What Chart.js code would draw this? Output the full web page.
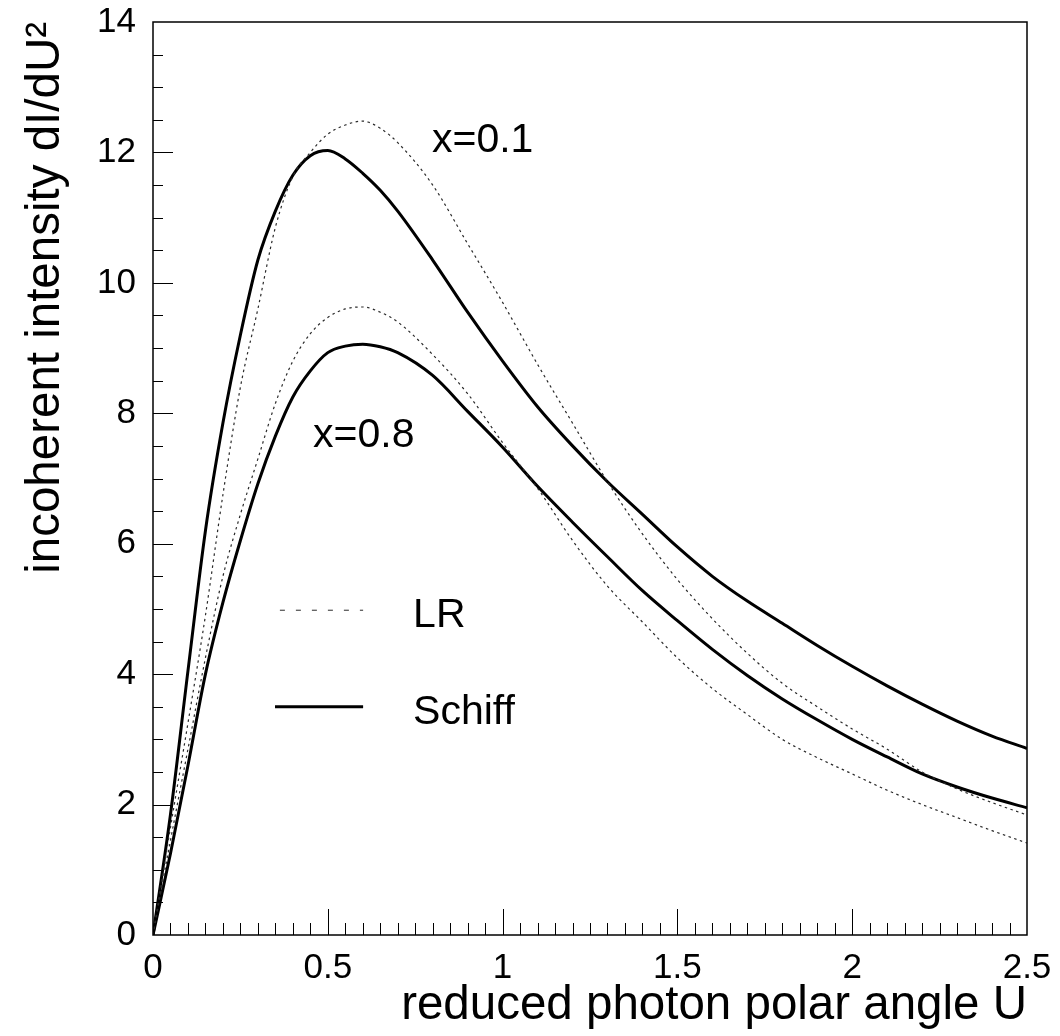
<!DOCTYPE html>
<html>
<head>
<meta charset="utf-8">
<script src="https://cdn.jsdelivr.net/npm/chart.js@4.4.1/dist/chart.umd.min.js"></script>
<style>
  html, body { margin: 0; padding: 0; background: #fff; }
  #wrap { width: 1060px; height: 1036px; }
</style>
</head>
<body>
<div id="wrap"><canvas id="chart"></canvas></div>
<script>
/* ═══════════════════════════════════════════════════
   DATA
═══════════════════════════════════════════════════ */
const angleU = [0, 0.05, 0.1, 0.15, 0.2, 0.25, 0.3, 0.35, 0.4, 0.45, 0.5, 0.55, 0.6, 0.65, 0.7,
  0.8, 0.9, 1.0, 1.1, 1.2, 1.3, 1.4, 1.5, 1.6, 1.7, 1.8, 1.9, 2.0, 2.1, 2.2, 2.3, 2.4, 2.5];

const schiff01 = [0, 1.85, 4.05, 6.2, 7.85, 9.2, 10.35, 11.1, 11.65, 11.95, 12.03, 11.9, 11.68, 11.42, 11.1,
  10.35, 9.55, 8.8, 8.1, 7.5, 6.95, 6.45, 5.95, 5.5, 5.12, 4.78, 4.44, 4.12, 3.82, 3.54, 3.28, 3.05, 2.86];
const lr01 = [0, 1.65, 3.25, 4.9, 6.75, 8.4, 9.6, 10.85, 11.63, 12.0, 12.28, 12.42, 12.48, 12.37, 12.15,
  11.5, 10.6, 9.7, 8.75, 7.85, 6.95, 6.15, 5.45, 4.85, 4.32, 3.86, 3.5, 3.16, 2.85, 2.5, 2.24, 2.03, 1.84];
const schiff08 = [0, 1.25, 2.6, 4.0, 5.1, 6.05, 6.92, 7.65, 8.25, 8.65, 8.93, 9.03, 9.06, 9.02, 8.93,
  8.58, 8.03, 7.48, 6.88, 6.33, 5.8, 5.28, 4.82, 4.38, 3.98, 3.62, 3.3, 3.0, 2.73, 2.47, 2.27, 2.1, 1.95];
const lr08 = [0, 1.45, 2.85, 4.25, 5.5, 6.45, 7.3, 8.15, 8.8, 9.22, 9.47, 9.6, 9.63, 9.55, 9.4,
  8.9, 8.3, 7.55, 6.85, 6.05, 5.35, 4.8, 4.25, 3.78, 3.38, 3.0, 2.72, 2.47, 2.22, 2.0, 1.8, 1.6, 1.41];

const xTickLabels = [0, 0.5, 1, 1.5, 2, 2.5];
const yTickLabels = [0, 2, 4, 6, 8, 10, 12, 14];

const curveNotes = ['x=0.1', 'x=0.8'];
const legendNames = ['LR', 'Schiff'];

/* ═══════════════════════════════════════════════════
   CHART
═══════════════════════════════════════════════════ */
const FONT = '"Liberation Sans", Arial, Helvetica, sans-serif';
const X_MINOR = 0.05;
const Y_MINOR = 0.5;

function pts(values) {
  return angleU.map((u, i) => ({ x: u, y: values[i] }));
}

const lrStyle = { borderColor: '#2a2a2a', borderWidth: 1.2, borderDash: [2.5, 3.5] };
const schiffStyle = { borderColor: '#000', borderWidth: 3, borderDash: [] };

// inward tick marks, frame, curve labels and the little legend
const decorPlugin = {
  id: 'decor',
  afterDatasetsDraw(chart) {
    const { ctx, chartArea: a, scales: { x, y } } = chart;
    ctx.save();
    ctx.strokeStyle = '#000';
    ctx.lineWidth = 1;

    const nx = Math.round((x.max - x.min) / X_MINOR);
    for (let k = 1; k < nx; k++) {
      const px = Math.round(x.getPixelForValue(x.min + k * X_MINOR)) + 0.5;
      const len = k % 10 === 0 ? 26 : 12;
      ctx.beginPath();
      ctx.moveTo(px, a.bottom);
      ctx.lineTo(px, a.bottom - len);
      ctx.stroke();
    }
    const ny = Math.round((y.max - y.min) / Y_MINOR);
    for (let k = 1; k < ny; k++) {
      const py = Math.round(y.getPixelForValue(y.min + k * Y_MINOR)) + 0.5;
      const len = k % 4 === 0 ? 20 : 10;
      ctx.beginPath();
      ctx.moveTo(a.left, py);
      ctx.lineTo(a.left + len, py);
      ctx.stroke();
    }

    ctx.lineWidth = 1.5;
    ctx.strokeRect(a.left, a.top, a.right - a.left, a.bottom - a.top);

    // curve labels
    ctx.fillStyle = '#000';
    ctx.font = '41px ' + FONT;
    ctx.textAlign = 'left';
    ctx.textBaseline = 'alphabetic';
    ctx.fillText(curveNotes[0], x.getPixelForValue(0.798), y.getPixelForValue(12.0));
    ctx.fillText(curveNotes[1], x.getPixelForValue(0.458), y.getPixelForValue(7.48));

    // legend
    const rows = [
      { style: lrStyle, dash: [5, 11], lineV: 4.98, textV: 4.72, from: 0.363 },
      { style: schiffStyle, dash: [], lineV: 3.5, textV: 3.24, from: 0.349 },
    ];
    rows.forEach((r, i) => {
      const py = y.getPixelForValue(r.lineV);
      ctx.beginPath();
      ctx.setLineDash(r.dash);
      ctx.strokeStyle = r.style.borderColor;
      ctx.lineWidth = r.style.borderWidth === 3 ? 3 : 1;
      ctx.moveTo(x.getPixelForValue(r.from), py);
      ctx.lineTo(x.getPixelForValue(0.601), py);
      ctx.stroke();
      ctx.setLineDash([]);
      ctx.fillText(legendNames[i], x.getPixelForValue(0.744), y.getPixelForValue(r.textV));
    });
    ctx.restore();
  }
};

const ctx = document.getElementById('chart');
new Chart(ctx, {
  type: 'line',
  data: {
    datasets: [
      { label: 'LR x=0.1', data: pts(lr01), ...lrStyle },
      { label: 'LR x=0.8', data: pts(lr08), ...lrStyle },
      { label: 'Schiff x=0.1', data: pts(schiff01), ...schiffStyle },
      { label: 'Schiff x=0.8', data: pts(schiff08), ...schiffStyle },
    ]
  },
  options: {
    responsive: true,
    maintainAspectRatio: false,
    animation: false,
    layout: { padding: { top: 22, right: 33, left: 0, bottom: 0 } },
    elements: {
      point: { radius: 0, hoverRadius: 0 },
      line: { cubicInterpolationMode: 'monotone', fill: false }
    },
    plugins: { legend: { display: false }, tooltip: { enabled: false } },
    scales: {
      x: {
        type: 'linear',
        min: 0,
        max: 2.5,
        grid: { display: false, drawTicks: false },
        border: { display: false },
        afterBuildTicks: s => { s.ticks = xTickLabels.map(v => ({ value: v })); },
        afterFit: s => { s.height = 101; s.paddingLeft = 0; s.paddingRight = 0; },
        ticks: {
          font: { size: 35, family: FONT }, color: '#000', padding: 12,
          maxRotation: 0, autoSkip: false, callback: v => String(v)
        },
        title: {
          display: true, text: 'reduced photon polar angle U', align: 'end',
          font: { size: 47.5, family: FONT }, color: '#000', padding: { top: 0, bottom: 2 }
        }
      },
      y: {
        type: 'linear',
        min: 0,
        max: 14,
        grid: { display: false, drawTicks: false },
        border: { display: false },
        afterBuildTicks: s => { s.ticks = yTickLabels.map(v => ({ value: v })); },
        afterFit: s => { s.width = 153; s.paddingTop = 0; s.paddingBottom = 0; },
        ticks: {
          font: { size: 35, family: FONT }, color: '#000', padding: 17,
          autoSkip: false, callback: v => String(v)
        },
        title: {
          display: true, text: 'incoherent intensity dI/dU²', align: 'end',
          font: { size: 47.5, family: FONT }, color: '#000', padding: { top: 17, bottom: 0 }
        }
      }
    }
  },
  plugins: [decorPlugin]
});
</script>
</body>
</html>
